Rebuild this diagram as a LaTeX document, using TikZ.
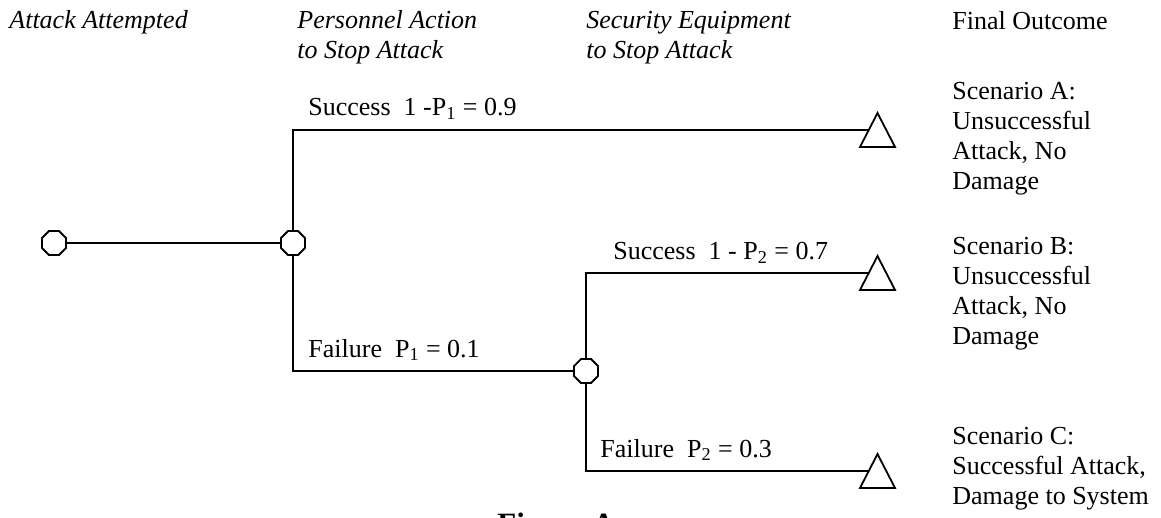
\documentclass[tikz,border=0pt]{standalone}
\usepackage{fontspec}
\setmainfont{Liberation Serif}
\usetikzlibrary{shapes.geometric}
\begin{document}
\begin{tikzpicture}[x=0.5pt, y=-0.5pt,
    chance/.style={draw, line width=0.9pt, regular polygon, regular polygon sides=8,
      minimum size=13pt, inner sep=0pt, fill=white},
    branch/.style={line width=0.9pt},
    prob/.style={anchor=base west, inner sep=0pt, font=\fontsize{13}{15}\selectfont},
    head/.style={anchor=base west, inner sep=0pt, align=left, font=\fontsize{13}{15}\selectfont\itshape},
    result/.style={anchor=base west, inner sep=0pt, align=left, font=\fontsize{13}{15}\selectfont},
    outcome/.pic={\draw[line width=0.9pt] (-9,17) -- (26,17) -- (8.5,-17) -- cycle;}]
  \useasboundingbox (0,0) rectangle (1161,518);
  \clip (0,0) rectangle (1161,518);
  % column heads (base = last line)
  \node[head] (hAttack) at (9,29) {Attack Attempted};
  \node[head] (hPers) at (297,59) {Personnel Action\\to Stop Attack};
  \node[head] (hSec) at (586,59) {Security Equipment\\to Stop Attack};
  \node[result] (hFinal) at (952,30) {Final Outcome};
  % chance nodes
  \node[chance] (n0) at (54,243) {};
  \node[chance] (n1) at (293,243) {};
  \node[chance] (n2) at (586,371) {};
  % end points
  \coordinate (endA) at (869,130);
  \coordinate (endB) at (869,273);
  \coordinate (endC) at (869,471);
  \pic at (endA) {outcome};
  \pic at (endB) {outcome};
  \pic at (endC) {outcome};
  % branches
  \draw[branch] (n0) -- (n1);
  \draw[branch] (n1) |- (endA);
  \draw[branch] (n1) |- (n2);
  \draw[branch] (n2) |- (endB);
  \draw[branch] (n2) |- (endC);
  % probabilities
  \node[prob] (pSucc1) at (308,116) {Success\ \ 1 -P\textsubscript{1} = 0.9};
  \node[prob] (pFail1) at (308,357) {Failure\ \ P\textsubscript{1} = 0.1};
  \node[prob] (pSucc2) at (613,260) {Success\ \ 1 - P\textsubscript{2} = 0.7};
  \node[prob] (pFail2) at (600,457) {Failure\ \ P\textsubscript{2} = 0.3};
  % outcomes (base = last line)
  \node[result] (sA) at (952,190) {Scenario A:\\Unsuccessful\\Attack, No\\Damage};
  \node[result] (sB) at (952,344) {Scenario B:\\Unsuccessful\\Attack, No\\Damage};
  \node[result] (sC) at (952,504) {Scenario C:\\Successful Attack,\\Damage to System};
  \node[anchor=base west, inner sep=0pt, font=\fontsize{15.5}{18}\selectfont\bfseries] (fig) at (497,534) {Figure A};
\end{tikzpicture}
\end{document}
